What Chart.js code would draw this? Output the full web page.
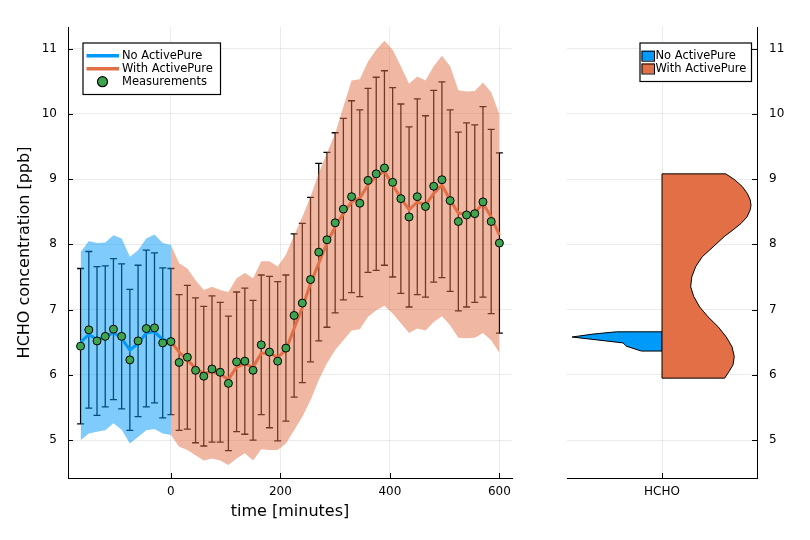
<!DOCTYPE html>
<html><head><meta charset="utf-8">
<script src="https://cdn.jsdelivr.net/npm/chart.js@4.4.1/dist/chart.umd.min.js"></script>
<style>
html,body{margin:0;padding:0;background:#fff;}
#wrap{position:relative;width:810px;height:540px;overflow:hidden;}
#c1{position:absolute;left:0;top:0;width:540px;height:540px;}
#c2{position:absolute;left:540px;top:0;width:270px;height:540px;}
</style></head><body>
<div id="wrap">
<canvas id="c1" width="540" height="540"></canvas>
<canvas id="c2" width="270" height="540"></canvas>
</div>
<script>
// ---------------- data ----------------
const timeNo   = [-165,-150,-135,-120,-105,-90,-75,-60,-45,-30,-15,0];
const lineNo   = [6.50,6.62,6.54,6.58,6.65,6.56,6.38,6.48,6.64,6.66,6.54,6.52];
const bandNoHi = [7.88,8.05,8.02,8.03,8.14,8.09,7.81,7.91,8.09,8.15,8.02,7.99];
const bandNoLo = [5.00,5.10,5.13,5.15,5.26,5.16,4.95,5.05,5.15,5.17,5.10,5.08];

const timeWith   = [0,15,30,45,60,75,90,105,120,135,150,165,180,195,210,225,240,255,270,285,300,315,330,345,360,375,390,405,420,435,450,465,480,495,510,525,540,555,570,585,600];
const lineWith   = [6.51,6.35,6.23,6.10,6.02,6.05,6.01,5.93,6.12,6.17,6.12,6.33,6.33,6.27,6.38,6.71,7.03,7.40,7.71,8.02,8.27,8.47,8.65,8.71,8.91,9.04,9.12,8.91,8.71,8.53,8.65,8.60,8.78,8.91,8.68,8.48,8.46,8.48,8.63,8.42,8.14];
const bandWithHi = [7.99,7.71,7.63,7.45,7.30,7.35,7.30,7.27,7.48,7.56,7.48,7.74,7.74,7.66,7.84,8.14,8.42,8.73,9.09,9.40,9.70,10.11,10.51,10.53,10.80,10.98,11.12,10.98,10.73,10.46,10.57,10.51,10.73,10.89,10.73,10.36,10.34,10.35,10.48,10.33,9.99];
const bandWithLo = [5.08,4.90,4.85,4.77,4.69,4.72,4.69,4.62,4.72,4.80,4.69,4.86,4.85,4.85,4.95,5.15,5.36,5.61,5.92,6.18,6.38,6.53,6.68,6.70,6.89,6.99,7.06,6.94,6.79,6.64,6.71,6.68,6.81,6.90,6.76,6.57,6.56,6.57,6.64,6.53,6.34];

const measTime  = [-165,-150,-135,-120,-105,-90,-75,-60,-45,-30,-15,0,15,30,45,60,75,90,105,120,135,150,165,180,195,210,225,240,255,270,285,300,315,330,345,360,375,390,405,420,435,450,465,480,495,510,525,540,555,570,585,600];
const measValue = [6.44,6.69,6.52,6.59,6.70,6.59,6.23,6.52,6.71,6.72,6.49,6.51,6.19,6.27,6.07,5.98,6.09,6.04,5.87,6.20,6.21,6.07,6.46,6.35,6.21,6.41,6.91,7.10,7.46,7.88,8.07,8.33,8.54,8.73,8.63,8.98,9.08,9.17,8.95,8.70,8.42,8.73,8.58,8.89,8.99,8.67,8.35,8.45,8.47,8.65,8.35,8.02];
const measErr   = [1.19,1.20,1.14,1.08,1.08,1.11,1.08,1.16,1.20,1.15,1.15,1.12,1.04,1.10,1.11,1.07,1.12,1.07,1.03,1.07,1.12,1.07,1.07,1.16,1.22,1.12,1.25,1.22,1.26,1.36,1.34,1.38,1.39,1.47,1.43,1.41,1.48,1.49,1.45,1.45,1.38,1.50,1.39,1.47,1.50,1.39,1.37,1.41,1.36,1.46,1.41,1.38];

const violinWithW = [0,0.671,0.765,0.845,0.898,0.929,0.937,0.929,0.895,0.832,0.747,0.656,0.537,0.424,0.355,0.313,0.302,0.334,0.397,0.484,0.589,0.677,0.737,0.761,0.747,0.705,0.660,0,0];
const violinWithY = [9.08,9.08,8.99,8.885,8.78,8.68,8.60,8.53,8.42,8.32,8.22,8.12,7.96,7.81,7.66,7.50,7.35,7.20,7.04,6.89,6.74,6.58,6.43,6.28,6.15,6.05,5.95,5.95,9.08];
const violinNoW = [0,-0.48,-0.726,-0.947,-0.41,-0.375,-0.217,0,0];
const violinNoY = [6.66,6.66,6.625,6.58,6.49,6.44,6.365,6.365,6.66];

const xTicks = [0,200,400,600];
const yTicks = [5,6,7,8,9,10,11];
const violinCategories = ['HCHO'];
const seriesNames = ['No ActivePure','With ActivePure','Measurements'];

// ---------------- styles ----------------
const BLUE = '#009AFA', ORANGE = '#E26F46', GREEN = '#3EA44E';
const GRID = 'rgba(0,0,0,0.08)';
const TICK_FONT = 12;
Chart.defaults.font.family = '"DejaVu Sans", sans-serif';
Chart.defaults.color = '#000';

const pts = (xs, ys) => xs.map((x, i) => ({x: x, y: ys[i]}));

const errorBars = {
  id: 'errorBars',
  beforeDatasetsDraw(chart) {
    const {ctx, chartArea} = chart;
    const xs = chart.scales.x, ys = chart.scales.y;
    ctx.save();
    ctx.beginPath(); ctx.rect(chartArea.left, chartArea.top, chartArea.width, chartArea.height); ctx.clip();
    ctx.strokeStyle = '#000'; ctx.lineWidth = 1.3;
    measTime.forEach((t, i) => {
      const px = xs.getPixelForValue(t);
      const top = ys.getPixelForValue(measValue[i] + measErr[i]);
      const bot = ys.getPixelForValue(measValue[i] - measErr[i]);
      ctx.beginPath();
      ctx.moveTo(px, top); ctx.lineTo(px, bot);
      ctx.moveTo(px - 3.5, top); ctx.lineTo(px + 3.5, top);
      ctx.moveTo(px - 3.5, bot); ctx.lineTo(px + 3.5, bot);
      ctx.stroke();
    });
    ctx.restore();
  }
};

function innerTicksPlugin(side) {
  return {
    id: 'innerTicks',
    afterDatasetsDraw(chart) {
      const {ctx, chartArea} = chart;
      const xs = chart.scales.x, ys = chart.scales.y;
      ctx.save(); ctx.strokeStyle = '#000'; ctx.lineWidth = 1;
      ctx.beginPath();
      xs.ticks.forEach(t => {
        const p = Math.round(xs.getPixelForValue(t.value)) + 0.5;
        ctx.moveTo(p, chartArea.bottom); ctx.lineTo(p, chartArea.bottom - 5);
      });
      const edge = side === 'right' ? chartArea.right : chartArea.left;
      const d = side === 'right' ? -5 : 5;
      ys.ticks.forEach(t => {
        const p = Math.round(ys.getPixelForValue(t.value)) + 0.5;
        ctx.moveTo(edge, p); ctx.lineTo(edge + d, p);
      });
      ctx.stroke(); ctx.restore();
    }
  };
}

function legendPlugin(box, entries) {
  return {
    id: 'boxLegend',
    afterDraw(chart) {
      const ctx = chart.ctx;
      ctx.save();
      ctx.fillStyle = '#fff'; ctx.fillRect(box.x, box.y, box.w, box.h);
      ctx.strokeStyle = '#000'; ctx.lineWidth = 1.2; ctx.strokeRect(box.x + 0.5, box.y + 0.5, box.w, box.h);
      ctx.font = '11.5px "DejaVu Sans"'; ctx.textBaseline = 'middle';
      entries.forEach(e => {
        if (e.kind === 'line') {
          ctx.strokeStyle = e.color; ctx.lineWidth = 3.5;
          ctx.beginPath(); ctx.moveTo(e.x0, e.y); ctx.lineTo(e.x1, e.y); ctx.stroke();
        } else if (e.kind === 'dot') {
          ctx.fillStyle = e.color; ctx.strokeStyle = '#000'; ctx.lineWidth = 1.2;
          ctx.beginPath(); ctx.arc(e.cx, e.y, 5, 0, Math.PI * 2); ctx.fill(); ctx.stroke();
        } else if (e.kind === 'patch') {
          ctx.fillStyle = e.color; ctx.fillRect(e.x0, e.y - 5, e.x1 - e.x0, 10);
          ctx.strokeStyle = '#000'; ctx.lineWidth = 1; ctx.strokeRect(e.x0 + 0.5, e.y - 5 + 0.5, e.x1 - e.x0, 10);
        }
        ctx.fillStyle = '#000';
        ctx.fillText(e.text, e.tx, e.y + 0.5);
      });
      ctx.restore();
    }
  };
}

const Y_MIN = 4.42, Y_MAX = 11.33;

// ---------------- left chart ----------------
new Chart(document.getElementById('c1'), {
  type: 'line',
  data: {
    datasets: [
      {label: seriesNames[2], data: pts(measTime, measValue), showLine: false, pointRadius: 4,
       pointBackgroundColor: GREEN, pointBorderColor: '#000', pointBorderWidth: 1, order: 0},
      {label: seriesNames[0], data: pts(timeNo, lineNo), borderColor: BLUE, borderWidth: 3, pointRadius: 0, fill: false, order: 1},
      {label: seriesNames[1], data: pts(timeWith, lineWith), borderColor: ORANGE, borderWidth: 3, pointRadius: 0, fill: false, order: 1},
      {label: 'noHi', data: pts(timeNo, bandNoHi), borderColor: 'rgba(0,0,0,0)', borderWidth: 0, pointRadius: 0, fill: false, order: 2},
      {label: 'noLo', data: pts(timeNo, bandNoLo), borderColor: 'rgba(0,0,0,0)', borderWidth: 0, pointRadius: 0, fill: 3,
       backgroundColor: 'rgba(0,154,250,0.5)', order: 2},
      {label: 'withHi', data: pts(timeWith, bandWithHi), borderColor: 'rgba(0,0,0,0)', borderWidth: 0, pointRadius: 0, fill: false, order: 2},
      {label: 'withLo', data: pts(timeWith, bandWithLo), borderColor: 'rgba(0,0,0,0)', borderWidth: 0, pointRadius: 0, fill: 5,
       backgroundColor: 'rgba(226,111,70,0.5)', order: 2}
    ]
  },
  options: {
    responsive: false, animation: false, devicePixelRatio: 1,
    layout: {padding: {left: 0, top: 27, right: 28, bottom: 0}},
    plugins: {legend: {display: false}, tooltip: {enabled: false}},
    elements: {line: {tension: 0}},
    scales: {
      x: {
        type: 'linear', min: -188, max: 623,
        afterBuildTicks: a => { a.ticks = xTicks.map(v => ({value: v})); },
        afterFit: s => { s.height = 62; },
        grid: {color: GRID, drawTicks: false},
        border: {display: true, color: '#000', width: 1},
        ticks: {padding: 7, font: {size: TICK_FONT}, maxRotation: 0},
        title: {display: true, text: 'time [minutes]', font: {size: 16, lineHeight: 1}, padding: {top: 0, bottom: 20}}
      },
      y: {
        type: 'linear', min: Y_MIN, max: Y_MAX,
        afterBuildTicks: a => { a.ticks = yTicks.map(v => ({value: v})); },
        afterFit: s => { s.width = 68; },
        grid: {color: GRID, drawTicks: false},
        border: {display: true, color: '#000', width: 1},
        ticks: {padding: 11, font: {size: TICK_FONT}},
        title: {display: true, text: 'HCHO concentration [ppb]', font: {size: 16, lineHeight: 1}, padding: {top: 17, bottom: 0}}
      }
    }
  },
  plugins: [errorBars, innerTicksPlugin('left'),
    legendPlugin({x: 82.5, y: 42.5, w: 137.5, h: 51.5}, [
      {kind: 'line', color: BLUE, x0: 86.5, x1: 119, y: 55.7, tx: 122, text: seriesNames[0]},
      {kind: 'line', color: ORANGE, x0: 86.5, x1: 119, y: 68.7, tx: 122, text: seriesNames[1]},
      {kind: 'dot', color: GREEN, cx: 102.5, y: 81.7, tx: 122, text: seriesNames[2]}
    ])]
});

// ---------------- right chart (violins) ----------------
new Chart(document.getElementById('c2'), {
  type: 'scatter',
  data: {
    datasets: [
      {label: seriesNames[0], data: pts(violinNoW, violinNoY), showLine: true, fill: 'shape',
       backgroundColor: BLUE, borderColor: '#000', borderWidth: 1, pointRadius: 0, order: 1},
      {label: seriesNames[1], data: pts(violinWithW, violinWithY), showLine: true, fill: 'shape',
       backgroundColor: ORANGE, borderColor: '#000', borderWidth: 1, pointRadius: 0, order: 0}
    ]
  },
  options: {
    responsive: false, animation: false, devicePixelRatio: 1,
    layout: {padding: {left: 27, top: 27, right: 0, bottom: 0}},
    plugins: {legend: {display: false}, tooltip: {enabled: false}},
    elements: {line: {tension: 0}},
    scales: {
      x: {
        type: 'linear', min: -1, max: 1,
        afterBuildTicks: a => { a.ticks = [{value: 0}]; },
        afterFit: s => { s.height = 62; },
        grid: {color: GRID, drawTicks: false},
        border: {display: true, color: '#000', width: 1},
        ticks: {padding: 7, font: {size: TICK_FONT}, maxRotation: 0, callback: () => violinCategories[0]}
      },
      y: {
        type: 'linear', position: 'right', min: Y_MIN, max: Y_MAX,
        afterBuildTicks: a => { a.ticks = yTicks.map(v => ({value: v})); },
        afterFit: s => { s.width = 53; },
        grid: {color: GRID, drawTicks: false},
        border: {display: true, color: '#000', width: 1},
        ticks: {padding: 12, font: {size: TICK_FONT}}
      }
    }
  },
  plugins: [innerTicksPlugin('right'),
    legendPlugin({x: 99.5, y: 42.5, w: 111.5, h: 38.5}, [
      {kind: 'patch', color: BLUE, x0: 101.5, x1: 114, y: 55.7, tx: 115.5, text: seriesNames[0]},
      {kind: 'patch', color: ORANGE, x0: 101.5, x1: 114, y: 68.5, tx: 115.5, text: seriesNames[1]}
    ])]
});
</script>
</body></html>
